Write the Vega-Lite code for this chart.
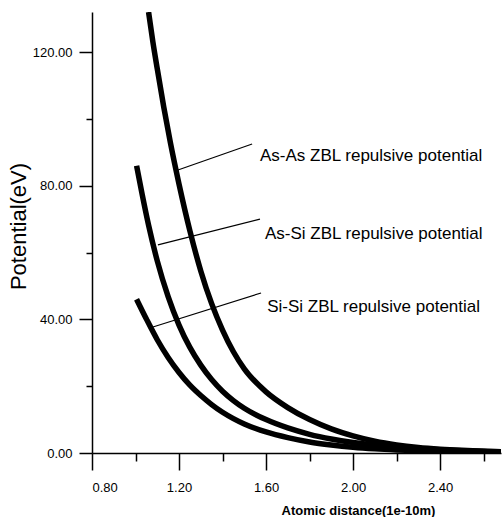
{
  "$schema": "https://vega.github.io/schema/vega-lite/v6.json",
  "width": 409,
  "height": 441,
  "autosize": "none",
  "padding": {"left": 92, "top": 12, "right": 2, "bottom": 64},
  "background": "white",
  "config": {
    "view": {"stroke": null},
    "axis": {"grid": false, "domainColor": "black", "tickColor": "black", "labelColor": "black", "titleColor": "black", "domainWidth": 1.5, "tickWidth": 1.5, "labelFont": "Liberation Sans", "titleFont": "Liberation Sans"}
  },
  "layer": [
    {
      "data": {"values": [
        {"pair": "As-As", "r": 1.06, "v": 132},
        {"pair": "As-As", "r": 1.08, "v": 123},
        {"pair": "As-As", "r": 1.10, "v": 115},
        {"pair": "As-As", "r": 1.13, "v": 103.5},
        {"pair": "As-As", "r": 1.16, "v": 93},
        {"pair": "As-As", "r": 1.20, "v": 80.5},
        {"pair": "As-As", "r": 1.25, "v": 66.5},
        {"pair": "As-As", "r": 1.30, "v": 54.5},
        {"pair": "As-As", "r": 1.35, "v": 44.7},
        {"pair": "As-As", "r": 1.40, "v": 36.8},
        {"pair": "As-As", "r": 1.45, "v": 30.3},
        {"pair": "As-As", "r": 1.50, "v": 25.2},
        {"pair": "As-As", "r": 1.60, "v": 18.3},
        {"pair": "As-As", "r": 1.70, "v": 13.6},
        {"pair": "As-As", "r": 1.80, "v": 10.0},
        {"pair": "As-As", "r": 1.90, "v": 7.2},
        {"pair": "As-As", "r": 2.00, "v": 5.1},
        {"pair": "As-As", "r": 2.10, "v": 3.5},
        {"pair": "As-As", "r": 2.20, "v": 2.4},
        {"pair": "As-As", "r": 2.30, "v": 1.65},
        {"pair": "As-As", "r": 2.40, "v": 1.15},
        {"pair": "As-As", "r": 2.50, "v": 0.8},
        {"pair": "As-As", "r": 2.60, "v": 0.55},
        {"pair": "As-As", "r": 2.68, "v": 0.4},
        {"pair": "As-Si", "r": 1.005, "v": 86},
        {"pair": "As-Si", "r": 1.03, "v": 77.6},
        {"pair": "As-Si", "r": 1.06, "v": 68.2},
        {"pair": "As-Si", "r": 1.10, "v": 57.5},
        {"pair": "As-Si", "r": 1.15, "v": 46.8},
        {"pair": "As-Si", "r": 1.20, "v": 38.3},
        {"pair": "As-Si", "r": 1.25, "v": 31.6},
        {"pair": "As-Si", "r": 1.30, "v": 26.3},
        {"pair": "As-Si", "r": 1.35, "v": 22},
        {"pair": "As-Si", "r": 1.40, "v": 18.5},
        {"pair": "As-Si", "r": 1.45, "v": 15.7},
        {"pair": "As-Si", "r": 1.50, "v": 13.4},
        {"pair": "As-Si", "r": 1.60, "v": 10},
        {"pair": "As-Si", "r": 1.70, "v": 7.5},
        {"pair": "As-Si", "r": 1.80, "v": 5.6},
        {"pair": "As-Si", "r": 1.90, "v": 4.2},
        {"pair": "As-Si", "r": 2.00, "v": 3.15},
        {"pair": "As-Si", "r": 2.10, "v": 2.35},
        {"pair": "As-Si", "r": 2.20, "v": 1.75},
        {"pair": "As-Si", "r": 2.30, "v": 1.3},
        {"pair": "As-Si", "r": 2.40, "v": 0.95},
        {"pair": "As-Si", "r": 2.50, "v": 0.7},
        {"pair": "As-Si", "r": 2.60, "v": 0.5},
        {"pair": "As-Si", "r": 2.68, "v": 0.38},
        {"pair": "Si-Si", "r": 1.005, "v": 46},
        {"pair": "Si-Si", "r": 1.05, "v": 40.1},
        {"pair": "Si-Si", "r": 1.10, "v": 33.9},
        {"pair": "Si-Si", "r": 1.15, "v": 28.6},
        {"pair": "Si-Si", "r": 1.20, "v": 24.1},
        {"pair": "Si-Si", "r": 1.25, "v": 20.3},
        {"pair": "Si-Si", "r": 1.30, "v": 17.2},
        {"pair": "Si-Si", "r": 1.35, "v": 14.5},
        {"pair": "Si-Si", "r": 1.40, "v": 12.2},
        {"pair": "Si-Si", "r": 1.45, "v": 10.3},
        {"pair": "Si-Si", "r": 1.50, "v": 8.7},
        {"pair": "Si-Si", "r": 1.60, "v": 6.3},
        {"pair": "Si-Si", "r": 1.70, "v": 4.6},
        {"pair": "Si-Si", "r": 1.80, "v": 3.3},
        {"pair": "Si-Si", "r": 1.90, "v": 2.4},
        {"pair": "Si-Si", "r": 2.00, "v": 1.72},
        {"pair": "Si-Si", "r": 2.10, "v": 1.25},
        {"pair": "Si-Si", "r": 2.20, "v": 0.92},
        {"pair": "Si-Si", "r": 2.30, "v": 0.68},
        {"pair": "Si-Si", "r": 2.40, "v": 0.52},
        {"pair": "Si-Si", "r": 2.50, "v": 0.41},
        {"pair": "Si-Si", "r": 2.60, "v": 0.34},
        {"pair": "Si-Si", "r": 2.68, "v": 0.3}
      ]},
      "mark": {"type": "line", "strokeWidth": 5.5, "color": "black", "interpolate": "monotone", "clip": true},
      "encoding": {
        "x": {"field": "r", "type": "quantitative", "scale": {"domain": [0.8, 2.68], "nice": false, "zero": false},
          "axis": {"orient": "bottom", "values": [0.8, 1.2, 1.6, 2.0, 2.4], "format": ".2f", "tickSize": 17, "labelPadding": 11, "labelFontSize": 13, "title": "Atomic distance(1e-10m)", "titleFontSize": 13, "titleFontWeight": "bold", "titleX": 266, "titleY": 57, "titleAlign": "center", "titleBaseline": "middle"}},
        "y": {"field": "v", "type": "quantitative", "scale": {"domain": [0, 132], "nice": false},
          "axis": {"orient": "left", "values": [0, 40, 80, 120], "format": ".2f", "tickSize": 13, "labelPadding": 7, "labelFontSize": 13, "title": "Potential(eV)", "titleFontSize": 22, "titleFontWeight": "normal", "titleAngle": -90, "titleX": -74, "titleY": 214, "titleAlign": "center", "titleBaseline": "middle"}},
        "detail": {"field": "pair", "type": "nominal"}
      }
    },
    {
      "data": {"values": [
        {"pair": "As-As", "r1": 1.182, "v1": 84.4, "r2": 1.536, "v2": 92.5},
        {"pair": "As-Si", "r1": 1.103, "v1": 62.3, "r2": 1.572, "v2": 70.0},
        {"pair": "Si-Si", "r1": 1.080, "v1": 37.7, "r2": 1.577, "v2": 47.9}
      ]},
      "mark": {"type": "rule", "strokeWidth": 1.2, "color": "black"},
      "encoding": {
        "x": {"field": "r1", "type": "quantitative", "axis": {"orient": "bottom", "values": [1.0, 1.4, 1.8, 2.2, 2.6], "labels": false, "tickSize": 8, "domain": false, "title": null}},
        "y": {"field": "v1", "type": "quantitative", "axis": {"orient": "left", "values": [20, 60, 100], "labels": false, "tickSize": 6, "domain": false, "title": null}},
        "x2": {"field": "r2"},
        "y2": {"field": "v2"}
      }
    },
    {
      "data": {"values": [
        {"label": "As-As ZBL repulsive potential", "tx": 1.572, "ty": 88.9},
        {"label": "As-Si ZBL repulsive potential", "tx": 1.595, "ty": 65.5},
        {"label": "Si-Si ZBL repulsive potential", "tx": 1.605, "ty": 43.7}
      ]},
      "mark": {"type": "text", "align": "left", "baseline": "middle", "font": "Liberation Sans", "fontSize": 17, "color": "black"},
      "encoding": {
        "x": {"field": "tx", "type": "quantitative", "axis": null},
        "y": {"field": "ty", "type": "quantitative", "axis": null},
        "text": {"field": "label"}
      }
    }
  ],
  "resolve": {"axis": {"x": "independent", "y": "independent"}}
}
